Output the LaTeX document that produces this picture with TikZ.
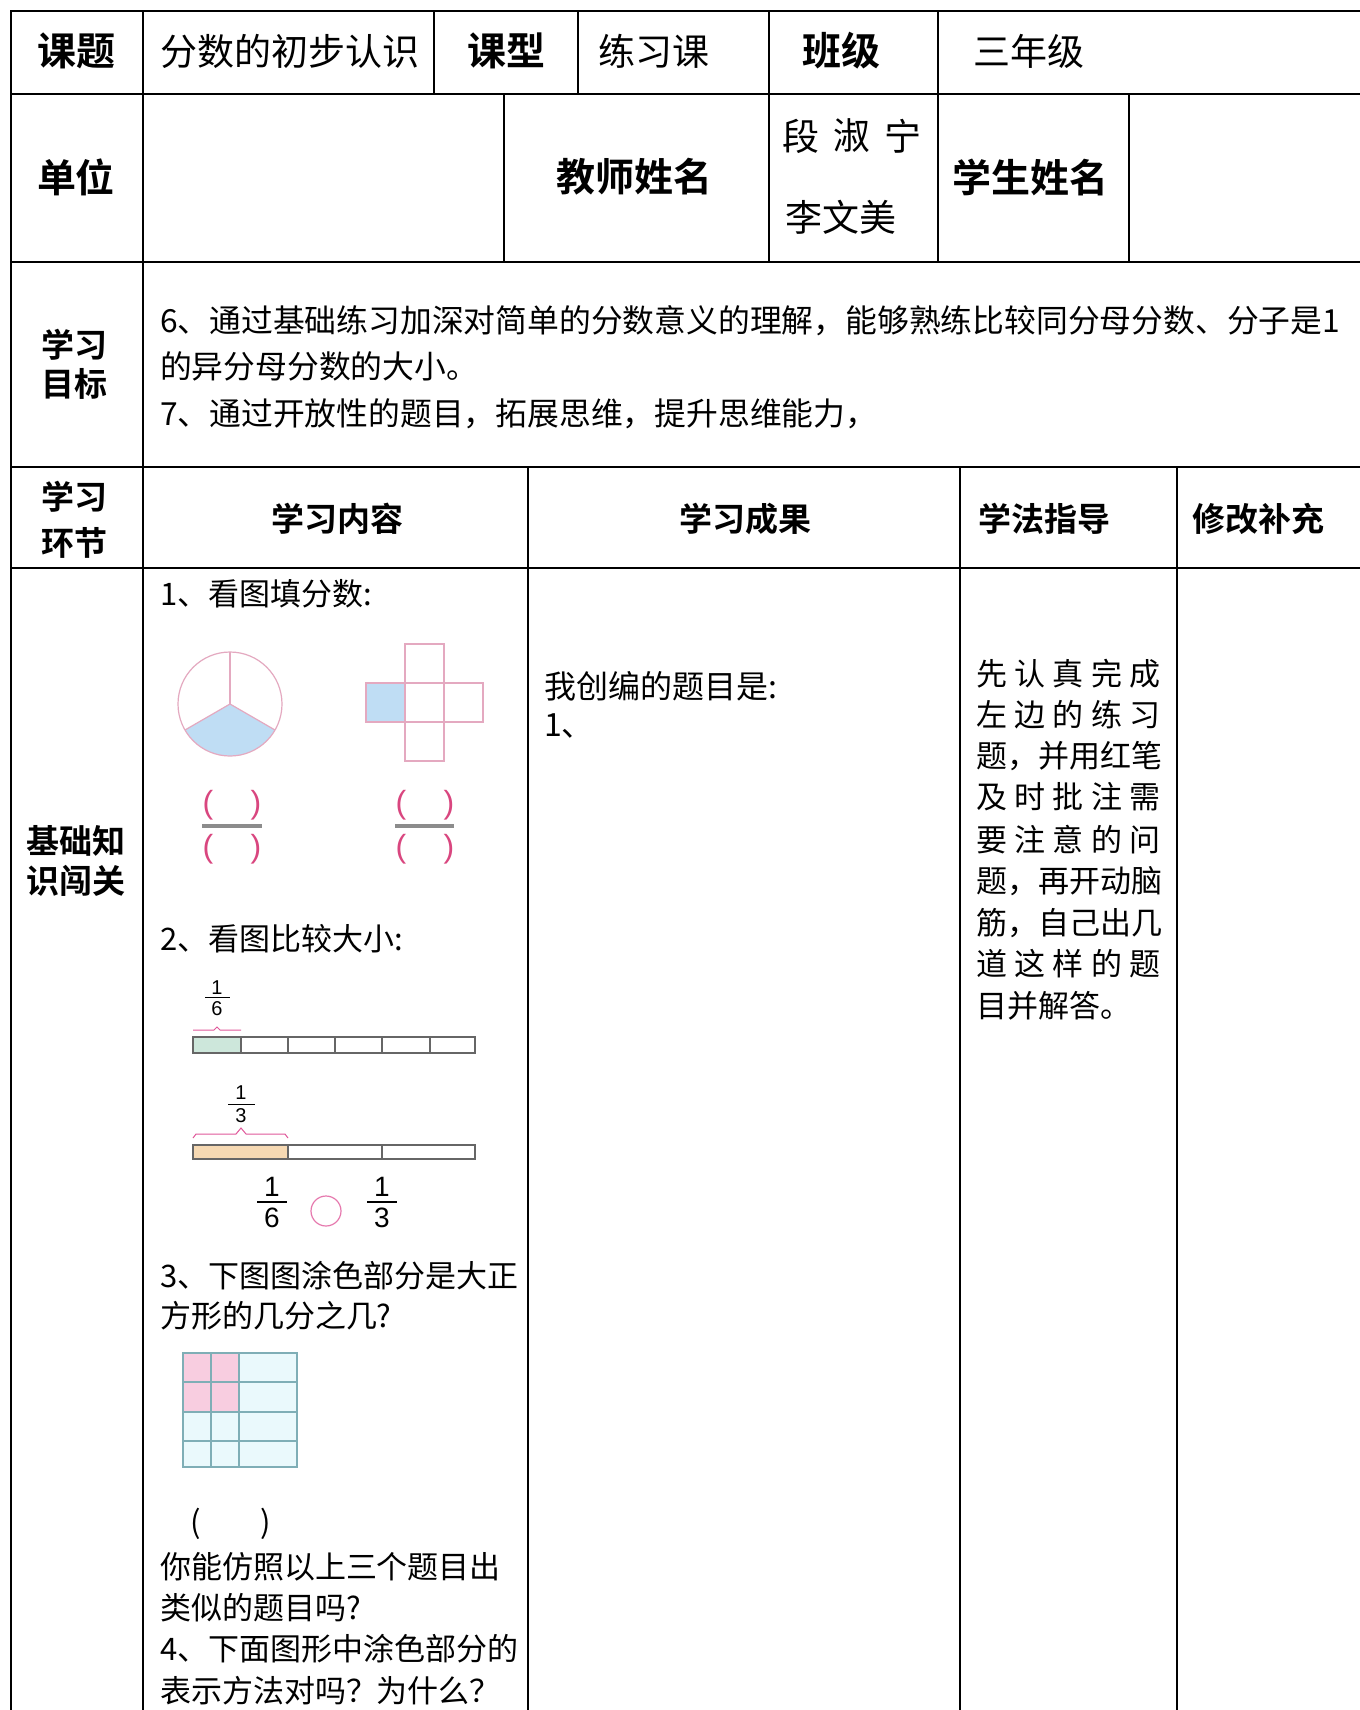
\documentclass[tikz,border=0pt]{standalone}
\usepackage{fontspec}
\setmainfont{Noto Sans CJK SC}[BoldFont={Noto Sans CJK SC Bold}]
\newfontfamily\numfont{Liberation Sans}
\definecolor{pinkline}{HTML}{E4A9C0}
\definecolor{fillblue}{HTML}{BFDDF4}
\definecolor{parenmag}{HTML}{D9467F}
\definecolor{fracbar}{HTML}{8C8C8C}
\definecolor{barline}{HTML}{666666}
\definecolor{greenfill}{HTML}{CDE7DB}
\definecolor{peachfill}{HTML}{F6D9B3}
\definecolor{bracepink}{HTML}{E0589A}
\definecolor{gridline}{HTML}{7FAEB6}
\definecolor{gridbg}{HTML}{EAF9FC}
\definecolor{gridpink}{HTML}{F8CDE0}
\newcommand{\jline}[1]{\makebox[92.5pt][s]{#1}}
\begin{document}
\begin{tikzpicture}[x=0.5pt,y=-0.5pt,
  every node/.style={inner sep=0pt, outer sep=0pt},
  hrule/.style={line width=1.2pt, line cap=rect},
  vrule/.style={line width=0.8pt},
  headL/.style={font=\fontsize{19.5}{22}\selectfont\bfseries},
  txtL/.style={font=\fontsize{18.5}{22}\selectfont, anchor=west},
  headS/.style={font=\fontsize{16.5}{20}\selectfont\bfseries},
  body/.style={font=\fontsize{15.9}{20}\selectfont, anchor=west},
  colt/.style={font=\fontsize{15.5}{20}\selectfont, anchor=west},
  guide/.style={font=\fontsize{15.5}{20}\selectfont, anchor=west},
  paren/.style={font=\numfont\fontsize{16}{18}\selectfont, text=parenmag},
  smallnum/.style={font=\numfont\fontsize{10}{11}\selectfont},
  bignum/.style={font=\numfont\fontsize{14}{16}\selectfont},
  pinkthin/.style={draw=pinkline, line width=0.6pt},
  barbox/.style={draw=barline, line width=0.6pt},
  bracestyle/.style={draw=bracepink, line width=0.5pt},
  gridstyle/.style={draw=gridline, line width=0.7pt}]
\useasboundingbox (0,0) rectangle (1360,1710);
\fill[white] (0,0) rectangle (1360,1710);

% ---- table rules ----
\foreach \yy in {11,94,262,467,568} \draw[hrule] (11,\yy) -- (1360,\yy);
\draw[hrule] (11,11) -- (11,1710);
\draw[vrule] (143,11) -- (143,1710);
\foreach \xx in {434,578,769,938} \draw[vrule] (\xx,11) -- (\xx,94);
\foreach \xx in {504,769,938,1129} \draw[vrule] (\xx,94) -- (\xx,262);
\foreach \xx in {528,960,1177} \draw[vrule] (\xx,467) -- (\xx,1710);

% ---- row 1 ----
\node[headL] (ketiH) at (77,51) {课题};
\node[txtL] (ketiV) at (160,51) {分数的初步认识};
\node[headL] (kexingH) at (506,51) {课型};
\node[txtL] (kexingV) at (598,51) {练习课};
\node[headL] (banjiH) at (841,51) {班级};
\node[txtL] (banjiV) at (973,51) {三年级};

% ---- row 2 ----
\node[headL] (danweiH) at (76,177) {单位};
\node[headL] (teacherH) at (634,177) {教师姓名};
\node[font=\fontsize{18.5}{22}\selectfont] (tA) at (801,136) {段};
\node[font=\fontsize{18.5}{22}\selectfont] (tB) at (852,136) {淑};
\node[font=\fontsize{18.5}{22}\selectfont] (tC) at (903,136) {宁};
\node[txtL] (tD) at (785,217) {李文美};
\node[headL] (studentH) at (1030,177) {学生姓名};

% ---- row 3 ----
\node[headS] (goalH1) at (74,345) {学习};
\node[headS] (goalH2) at (74,384) {目标};
\node[body] (goal1) at (160,321) {6、通过基础练习加深对简单的分数意义的理解，能够熟练比较同分母分数、分子是1};
\node[body] (goal2) at (160,366) {的异分母分数的大小。};
\node[body] (goal3) at (160,414) {7、通过开放性的题目，拓展思维，提升思维能力，};

% ---- row 4 ----
\node[headS] (stepH1) at (74,497) {学习};
\node[headS] (stepH2) at (74,543) {环节};
\node[headS] (contentH) at (337,519) {学习内容};
\node[headS] (resultH) at (745,519) {学习成果};
\node[headS, anchor=west] (methodH) at (978,519) {学法指导};
\node[headS, anchor=west] (reviseH) at (1192,519) {修改补充};

% ---- row 5 ----
\node[headS] (basicH1) at (76,841) {基础知};
\node[headS] (basicH2) at (76,881) {识闯关};

\node[colt] (q1) at (160,594) {1、看图填分数:};
% circle figure
\fill[fillblue] (230,704) -- +(150:52) arc[start angle=150, end angle=30, radius=52] -- cycle;
\draw[pinkthin] (230,704) circle[radius=52];
\draw[pinkthin] (230,704) -- +(270:52);
\draw[pinkthin] (230,704) -- +(150:52);
\draw[pinkthin] (230,704) -- +(30:52);
% cross figure
\fill[fillblue] (366,683) rectangle (405,722);
\draw[pinkthin] (405,644) rectangle (444,761);
\draw[pinkthin] (366,683) rectangle (483,722);
% blank fractions
\draw[fracbar, line width=2pt] (202,826) -- (262,826);
\node[paren] (pa1) at (208,805) {(};
\node[paren] (pa2) at (256,805) {)};
\node[paren] (pa3) at (208,849) {(};
\node[paren] (pa4) at (256,849) {)};
\draw[fracbar, line width=2pt] (395,826) -- (454,826);
\node[paren] (pb1) at (401,805) {(};
\node[paren] (pb2) at (449,805) {)};
\node[paren] (pb3) at (401,849) {(};
\node[paren] (pb4) at (449,849) {)};

\node[colt] (q2) at (160,939) {2、看图比较大小:};
% bar 1 (sixths)
\node[smallnum] (s1n) at (217,988) {1};
\draw[line width=0.5pt] (205,997) -- (230,997);
\node[smallnum] (s1d) at (217,1009) {6};
\draw[bracestyle] (193,1030) -- (214,1030) -- (217,1027) -- (220,1030) -- (241,1030);
\fill[greenfill] (193,1037) rectangle (241,1053);
\draw[barbox] (193,1037) rectangle (475,1053);
\foreach \xx in {241,288,335,382,430} \draw[barbox] (\xx,1037) -- (\xx,1053);
% bar 2 (thirds)
\node[smallnum] (s2n) at (241,1093) {1};
\draw[line width=0.5pt] (228,1104) -- (255,1104);
\node[smallnum] (s2d) at (241,1116) {3};
\draw[bracestyle] (193,1138) -- (196,1134) -- (236,1134) -- (241,1128) -- (246,1134) -- (285,1134) -- (288,1138);
\fill[peachfill] (193,1145) rectangle (288,1159);
\draw[barbox] (193,1145) rectangle (475,1159);
\foreach \xx in {288,382} \draw[barbox] (\xx,1145) -- (\xx,1159);
% compare
\node[bignum] (c1n) at (272,1187) {1};
\draw[line width=0.7pt] (257,1202) -- (287,1202);
\node[bignum] (c1d) at (272,1218) {6};
\draw[draw=bracepink!80, line width=0.6pt] (326,1211) circle[radius=15];
\node[bignum] (c2n) at (382,1187) {1};
\draw[line width=0.7pt] (367,1202) -- (397,1202);
\node[bignum] (c2d) at (382,1218) {3};

\node[colt] (q3a) at (160,1276) {3、下图图涂色部分是大正};
\node[colt] (q3b) at (160,1316) {方形的几分之几?};
% grid
\fill[gridbg] (183,1353) rectangle (297,1467);
\fill[gridpink] (183,1353) rectangle (239,1412);
\draw[gridstyle] (183,1353) rectangle (297,1467);
\foreach \xx in {211,239} \draw[gridstyle] (\xx,1353) -- (\xx,1467);
\foreach \yy in {1382,1412,1441} \draw[gridstyle] (183,\yy) -- (297,\yy);
\node[colt] (blank) at (190,1524) {(\hspace{30pt})};
\node[colt] (q3c) at (160,1567) {你能仿照以上三个题目出};
\node[colt] (q3d) at (160,1608) {类似的题目吗?};
\node[colt] (q4a) at (160,1649) {4、下面图形中涂色部分的};
\node[colt] (q4b) at (160,1691) {表示方法对吗？为什么？};

% column 3
\node[colt, font=\fontsize{16}{20}\selectfont] (r1) at (544,686) {我创编的题目是:};
\node[colt, font=\fontsize{16}{20}\selectfont] (r2) at (544,726) {1、};

% column 4
\node[guide] (g1) at (976,674) {\jline{先\hfill 认\hfill 真\hfill 完\hfill 成}};
\node[guide] (g2) at (976,715) {\jline{左\hfill 边\hfill 的\hfill 练\hfill 习}};
\node[guide] (g3) at (976,756) {\jline{题，\hfill 并\hfill 用\hfill 红\hfill 笔}};
\node[guide] (g4) at (976,797) {\jline{及\hfill 时\hfill 批\hfill 注\hfill 需}};
\node[guide] (g5) at (976,840) {\jline{要\hfill 注\hfill 意\hfill 的\hfill 问}};
\node[guide] (g6) at (976,881) {\jline{题，\hfill 再\hfill 开\hfill 动\hfill 脑}};
\node[guide] (g7) at (976,923) {\jline{筋，\hfill 自\hfill 己\hfill 出\hfill 几}};
\node[guide] (g8) at (976,964) {\jline{道\hfill 这\hfill 样\hfill 的\hfill 题}};
\node[guide] (g9) at (976,1006) {目并解答。};
\end{tikzpicture}
\end{document}
